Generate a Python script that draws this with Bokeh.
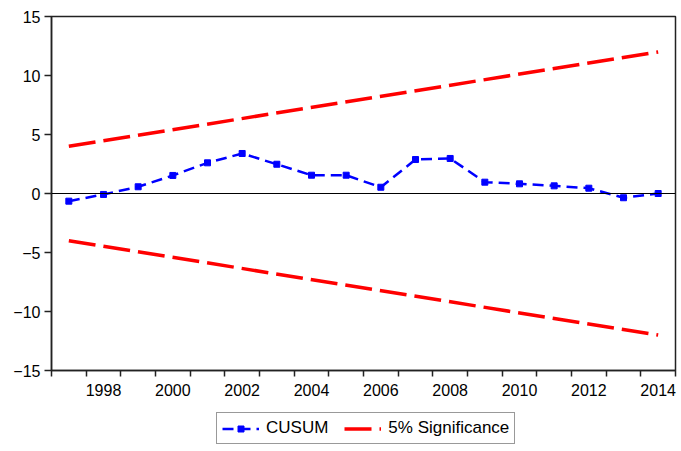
from bokeh.plotting import figure
from bokeh.layouts import column
from bokeh.models import Range1d, FixedTicker, Span, Legend, LegendItem
from bokeh.embed import file_html
from bokeh.resources import INLINE

# ---- data ----
years = list(range(1997, 2015))
cusum = [-0.65, -0.08, 0.57, 1.53, 2.60, 3.39, 2.48, 1.55, 1.55, 0.53,
         2.88, 2.97, 0.96, 0.82, 0.65, 0.45, -0.36, 0.00]
bound_years = [1997, 2014]
upper = [4.0, 12.0]
lower = [-4.0, -12.0]
y_ticks = [-15, -10, -5, 0, 5, 10, 15]
x_label_years = [1998, 2000, 2002, 2004, 2006, 2008, 2010, 2012, 2014]
series_names = ["CUSUM", "5% Significance"]

FONT = "Liberation Sans"
BLUE = "#0000FF"
RED = "#FF0000"
AX = "#222222"

boundaries = [y - 0.5 for y in years] + [years[-1] + 0.5]

p = figure(frame_width=624, frame_height=354,
           x_range=Range1d(boundaries[0], boundaries[-1]),
           y_range=Range1d(-15, 15),
           output_backend="svg", toolbar_location=None,
           min_border_left=51, min_border_top=16, min_border_right=5,
           min_border_bottom=0)

p.background_fill_color = "white"
p.border_fill_color = "white"
p.xgrid.visible = False
p.ygrid.visible = False
p.outline_line_color = AX
p.outline_line_width = 1.5

# zero line
p.add_layout(Span(location=0, dimension="width", line_color="black", line_width=1))

RED_STYLE = dict(line_color=RED, line_width=3.5, line_dash="27 8")
BLUE_LINE = dict(line_color=BLUE, line_width=2.5, line_dash="11 6")
BLUE_MARK = dict(marker="square", size=6, fill_color=BLUE, line_color=BLUE)

# significance bounds
p.line(bound_years, upper, **RED_STYLE)
p.line(bound_years, lower, **RED_STYLE)

# cusum
p.line(years, cusum, **BLUE_LINE)
p.scatter(years, cusum, **BLUE_MARK)

# axes
xa = p.xaxis[0]
xa.ticker = FixedTicker(ticks=x_label_years, minor_ticks=boundaries)
xa.major_tick_out = 0
xa.major_tick_in = 0
xa.minor_tick_out = 6
xa.minor_tick_in = 0
xa.minor_tick_line_color = AX
xa.minor_tick_line_width = 1.5
xa.axis_line_color = AX
xa.axis_line_width = 1.5
xa.major_label_text_font = FONT
xa.major_label_text_font_size = "16px"
xa.major_label_text_color = "black"
xa.major_label_standoff = 7

ya = p.yaxis[0]
ya.ticker = FixedTicker(ticks=y_ticks, minor_ticks=[])
ya.major_tick_out = 7
ya.major_tick_in = 0
ya.major_tick_line_color = AX
ya.major_tick_line_width = 1.5
ya.minor_tick_out = 0
ya.minor_tick_in = 0
ya.axis_line_color = AX
ya.axis_line_width = 1.5
ya.major_label_text_font = FONT
ya.major_label_text_font_size = "16px"
ya.major_label_text_color = "black"
ya.major_label_standoff = 4

# ---- legend strip below the chart ----
# the same series are drawn here outside the visible range, only to feed the legend
p2 = figure(width=680, height=46, x_range=Range1d(0, 1), y_range=Range1d(0, 1),
            x_axis_type=None, y_axis_type=None,
            output_backend="svg", toolbar_location=None,
            min_border=0)
p2.outline_line_color = None
p2.background_fill_color = "white"
p2.border_fill_color = "white"
p2.xgrid.visible = False
p2.ygrid.visible = False

lg_cl = p2.line(years, cusum, **BLUE_LINE)
lg_cm = p2.scatter(years, cusum, **BLUE_MARK)
lg_red = p2.line(bound_years, upper, **RED_STYLE)

legend = Legend(items=[LegendItem(label=series_names[0], renderers=[lg_cl, lg_cm]),
                       LegendItem(label=series_names[1], renderers=[lg_red])],
                orientation="horizontal", location=(165, 0))
legend.label_text_font = FONT
legend.label_text_font_size = "17px"
legend.label_text_color = "black"
legend.glyph_width = 37
legend.glyph_height = 15
legend.label_height = 15
legend.label_standoff = 7
legend.spacing = 16
legend.padding = 5
legend.margin = 0
legend.border_line_color = "#333333"
legend.border_line_width = 1
legend.background_fill_color = "white"
legend.background_fill_alpha = 1
p2.add_layout(legend, "center")

layout = column(p, p2, spacing=0)

open("out.html", "w").write(file_html(layout, INLINE))
